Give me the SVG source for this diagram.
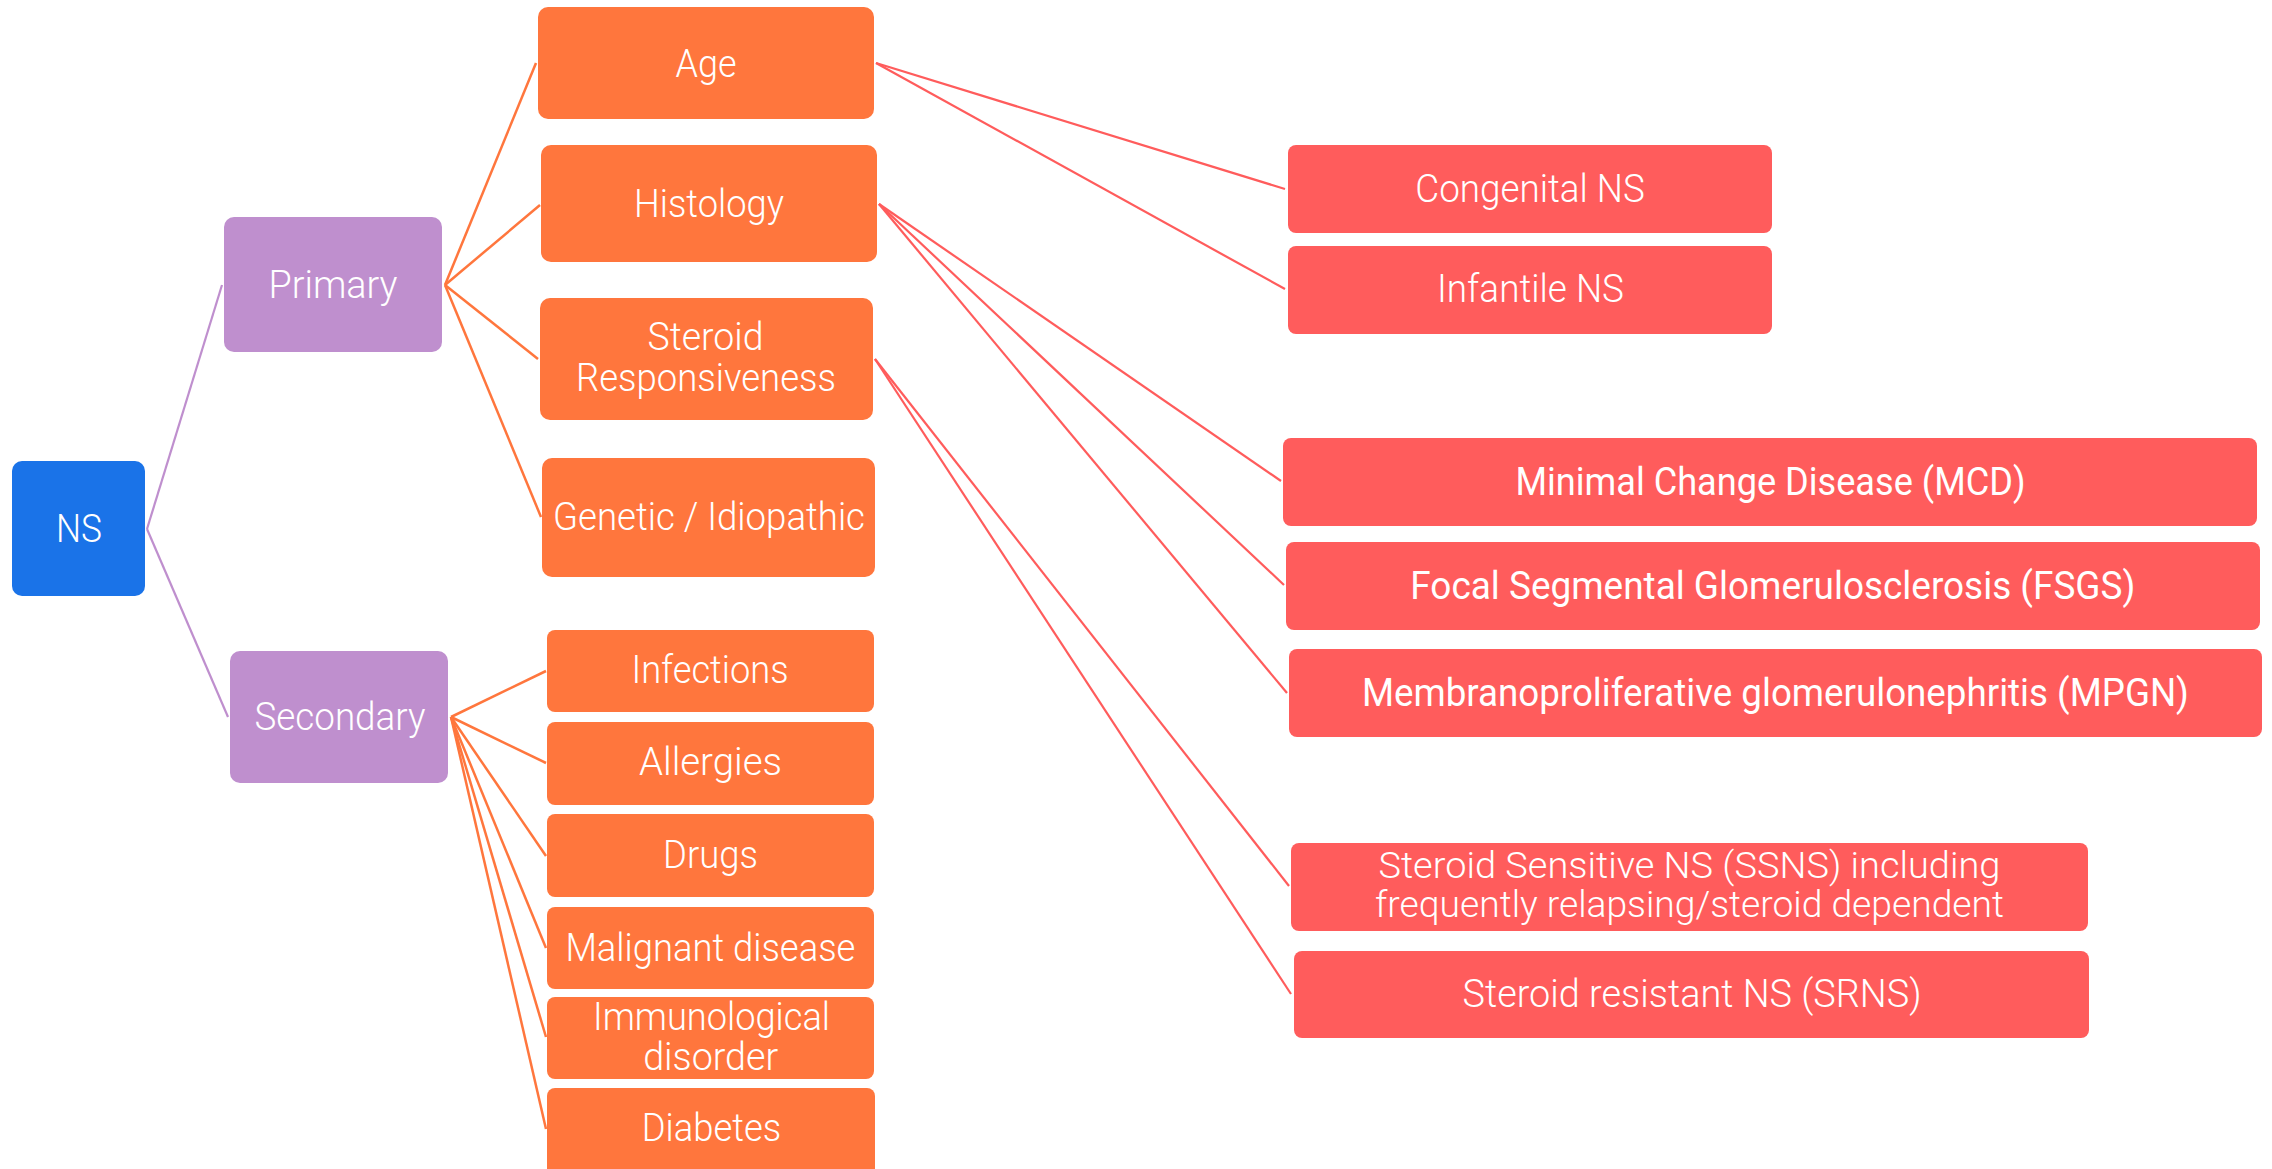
<svg xmlns="http://www.w3.org/2000/svg" width="2272" height="1169" viewBox="0 0 2272 1169">
<style>
  .t { font-family: Roboto, "Liberation Sans", sans-serif; font-weight: 300; font-size: 38px; fill: #ffffff; text-anchor: middle; }
  .s { font-size: 36px; }
  .b { font-weight: 400; }
  .blue { fill: #1A73E8; }
  .purple { fill: #BF8FCE; }
  .orange { fill: #FF763D; }
  .red { fill: #FF5C5C; }
  .lp { stroke: #BF8FCE; stroke-width: 2.2; fill: none; }
  .lo { stroke: #FF763D; stroke-width: 2.5; fill: none; }
  .lr { stroke: #FF5C5C; stroke-width: 2.2; fill: none; }
</style>
<rect width="2272" height="1169" fill="#ffffff"/>
<g id="connectors">
  <line class="lp" x1="147" y1="529" x2="222" y2="285"/>
  <line class="lp" x1="147" y1="529" x2="228" y2="717"/>
  <line class="lo" x1="445" y1="285" x2="536" y2="63"/>
  <line class="lo" x1="445" y1="285" x2="540" y2="205"/>
  <line class="lo" x1="445" y1="285" x2="538" y2="359"/>
  <line class="lo" x1="445" y1="285" x2="541" y2="517"/>
  <line class="lo" x1="451" y1="717" x2="546" y2="671"/>
  <line class="lo" x1="451" y1="717" x2="546" y2="763"/>
  <line class="lo" x1="451" y1="717" x2="546" y2="856"/>
  <line class="lo" x1="451" y1="717" x2="546" y2="948"/>
  <line class="lo" x1="451" y1="717" x2="546" y2="1037"/>
  <line class="lo" x1="451" y1="717" x2="546" y2="1129"/>
  <line class="lr" x1="876" y1="63" x2="1285" y2="189"/>
  <line class="lr" x1="876" y1="63" x2="1285" y2="289"/>
  <line class="lr" x1="879" y1="204" x2="1281" y2="481"/>
  <line class="lr" x1="879" y1="204" x2="1284" y2="585"/>
  <line class="lr" x1="879" y1="204" x2="1287" y2="693"/>
  <line class="lr" x1="875" y1="359" x2="1289" y2="886"/>
  <line class="lr" x1="875" y1="359" x2="1291" y2="994"/>
</g>
<g id="ns"><rect class="blue" x="12" y="461" width="133" height="135" rx="10"/><text class="t" x="79" y="541.5" textLength="46" lengthAdjust="spacingAndGlyphs">NS</text></g>
<g id="primary"><rect class="purple" x="224" y="217" width="218" height="135" rx="10"/><text class="t" x="333" y="298" textLength="129" lengthAdjust="spacingAndGlyphs">Primary</text></g>
<g id="secondary"><rect class="purple" x="230" y="651" width="218" height="132" rx="10"/><text class="t" x="340" y="730" textLength="171" lengthAdjust="spacingAndGlyphs">Secondary</text></g>
<g id="age"><rect class="orange" x="538" y="7" width="336" height="112" rx="10"/><text class="t" x="706" y="76.5" textLength="61" lengthAdjust="spacingAndGlyphs">Age</text></g>
<g id="histology"><rect class="orange" x="541" y="145" width="336" height="117" rx="10"/><text class="t" x="709" y="217" textLength="150" lengthAdjust="spacingAndGlyphs">Histology</text></g>
<g id="steroid"><rect class="orange" x="540" y="298" width="333" height="122" rx="10"/><text class="t" x="705.5" y="350" textLength="116" lengthAdjust="spacingAndGlyphs">Steroid</text><text class="t" x="706" y="391" textLength="260" lengthAdjust="spacingAndGlyphs">Responsiveness</text></g>
<g id="genetic"><rect class="orange" x="542" y="458" width="333" height="119" rx="10"/><text class="t" x="709" y="530" textLength="312" lengthAdjust="spacingAndGlyphs">Genetic / Idiopathic</text></g>
<g id="infections"><rect class="orange" x="547" y="630" width="327" height="82" rx="8"/><text class="t" x="710" y="683" textLength="157" lengthAdjust="spacingAndGlyphs">Infections</text></g>
<g id="allergies"><rect class="orange" x="547" y="722" width="327" height="83" rx="8"/><text class="t" x="710.5" y="775" textLength="143" lengthAdjust="spacingAndGlyphs">Allergies</text></g>
<g id="drugs"><rect class="orange" x="547" y="814" width="327" height="83" rx="8"/><text class="t" x="710.5" y="868" textLength="95" lengthAdjust="spacingAndGlyphs">Drugs</text></g>
<g id="malignant"><rect class="orange" x="547" y="907" width="327" height="82" rx="8"/><text class="t" x="710.4" y="960.5" textLength="290" lengthAdjust="spacingAndGlyphs">Malignant disease</text></g>
<g id="immunological"><rect class="orange" x="547" y="997" width="327" height="82" rx="8"/><text class="t" x="711.5" y="1030" textLength="237" lengthAdjust="spacingAndGlyphs">Immunological</text><text class="t" x="710.7" y="1070" textLength="135" lengthAdjust="spacingAndGlyphs">disorder</text></g>
<g id="diabetes"><rect class="orange" x="547" y="1088" width="328" height="88" rx="8"/><text class="t" x="711.5" y="1141" textLength="139.5" lengthAdjust="spacingAndGlyphs">Diabetes</text></g>
<g id="congenital"><rect class="red" x="1288" y="145" width="484" height="88" rx="8"/><text class="t" x="1530" y="202" textLength="229.5" lengthAdjust="spacingAndGlyphs">Congenital NS</text></g>
<g id="infantile"><rect class="red" x="1288" y="246" width="484" height="88" rx="8"/><text class="t" x="1530.5" y="302" textLength="187" lengthAdjust="spacingAndGlyphs">Infantile NS</text></g>
<g id="mcd"><rect class="red" x="1283" y="438" width="974" height="88" rx="8"/><text class="t b" x="1770.5" y="494.5" textLength="510" lengthAdjust="spacingAndGlyphs">Minimal Change Disease (MCD)</text></g>
<g id="fsgs"><rect class="red" x="1286" y="542" width="974" height="88" rx="8"/><text class="t b" x="1772.8" y="599" textLength="725" lengthAdjust="spacingAndGlyphs">Focal Segmental Glomerulosclerosis (FSGS)</text></g>
<g id="mpgn"><rect class="red" x="1289" y="649" width="973" height="88" rx="8"/><text class="t b" x="1775.4" y="706" textLength="827" lengthAdjust="spacingAndGlyphs">Membranoproliferative glomerulonephritis (MPGN)</text></g>
<g id="ssns"><rect class="red" x="1291" y="843" width="797" height="88" rx="8"/><text class="t s" x="1689.4" y="878" textLength="622" lengthAdjust="spacingAndGlyphs">Steroid Sensitive NS (SSNS) including</text><text class="t s" x="1689.5" y="916.5" textLength="629" lengthAdjust="spacingAndGlyphs">frequently relapsing/steroid dependent</text></g>
<g id="srns"><rect class="red" x="1294" y="951" width="795" height="87" rx="8"/><text class="t" x="1692" y="1007" textLength="459" lengthAdjust="spacingAndGlyphs">Steroid resistant NS (SRNS)</text></g>
</svg>
